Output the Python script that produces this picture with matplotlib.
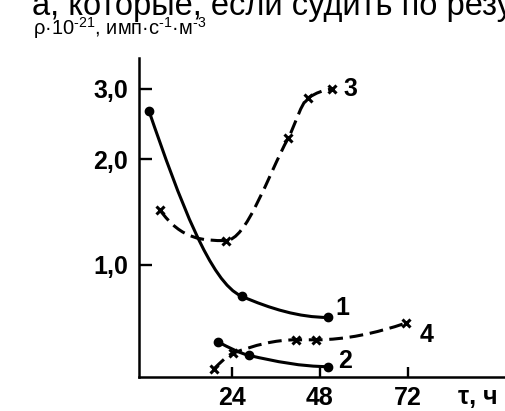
import numpy as np
import matplotlib
matplotlib.use('Agg')
import matplotlib.pyplot as plt
from matplotlib.path import Path
from matplotlib.patches import PathPatch

plt.rcParams['font.family'] = ['Liberation Sans', 'DejaVu Sans']
plt.rcParams['mathtext.fontset'] = 'custom'
plt.rcParams['mathtext.rm'] = 'Liberation Sans'
plt.rcParams['mathtext.bf'] = 'Liberation Sans:bold'

# data (tau in hours, rho in 1e21 units)
t1 = [1.5, 26.7, 50.2]
r1 = [2.69, 0.72, 0.53]
t2 = [20.4, 28.8, 50.2]
r2 = [0.31, 0.19, 0.09]
t3 = [4.5, 22.4, 39.4, 44.8, 51.2]
r3 = [1.52, 1.23, 2.30, 2.87, 2.99]
t4 = [19.2, 24.4, 41.5, 46.9, 71.4]
r4 = [0.07, 0.21, 0.33, 0.33, 0.48]

xticks = [24, 48, 72]
xticklabels = ['24', '48', '72']
yticks = [1, 2, 3]
yticklabels = ['1,0', '2,0', '3,0']

# the original y axis is not evenly spaced, so map it piecewise
scale_v = [0, 1, 2, 3, 4]
scale_p = [0, 111.7, 217.4, 287.7, 357.7]


def fwd(v):
    return np.interp(v, scale_v, scale_p)


def inv(p):
    return np.interp(p, scale_p, scale_v)


def pchip_slopes(x, y):
    h = np.diff(x)
    d = np.diff(y) / h
    m = np.zeros_like(y)
    for k in range(1, len(x) - 1):
        if d[k - 1] * d[k] > 0:
            w1 = 2 * h[k] + h[k - 1]
            w2 = h[k] + 2 * h[k - 1]
            m[k] = (w1 + w2) / (w1 / d[k - 1] + w2 / d[k])
    for k, (ha, hb, da, db) in [(0, (h[0], h[1], d[0], d[1])),
                                (-1, (h[-1], h[-2], d[-1], d[-2]))]:
        e = ((2 * ha + hb) * da - ha * db) / (ha + hb)
        if np.sign(e) != np.sign(da):
            e = 0
        elif np.sign(da) != np.sign(db) and abs(e) > 3 * abs(da):
            e = 3 * da
        m[k] = e
    return m


def smooth_path(xs, ys):
    # monotone cubic through the points, drawn as bezier segments
    x = np.asarray(xs, float)
    y = fwd(np.asarray(ys, float))
    m = pchip_slopes(x, y)
    verts = [(x[0], y[0])]
    codes = [Path.MOVETO]
    for i in range(len(x) - 1):
        h = (x[i + 1] - x[i]) / 3
        verts += [(x[i] + h, y[i] + m[i] * h),
                  (x[i + 1] - h, y[i + 1] - m[i + 1] * h),
                  (x[i + 1], y[i + 1])]
        codes += [Path.CURVE4] * 3
    verts = np.array(verts)
    verts[:, 1] = inv(verts[:, 1])
    return Path(verts, codes)


fig = plt.figure(figsize=(5.05, 4.11), dpi=100)
ax = fig.add_axes([0.2758, 0.0835, 0.724, 0.7755])
ax.set_yscale('function', functions=(fwd, inv))

lw = 2.2
dash = (0, (4.5, 2.2))
series = [
    (t1, r1, '-', 'o', '1', (10.6, 7.0)),
    (t2, r2, '-', 'o', '2', (12, 4.1)),
    (t3, r3, dash, 'x', '3', (13.2, 0)),
    (t4, r4, dash, 'x', '4', (15.1, -8.9)),
]
for xs, ys, ls, mk, lab, off in series:
    ax.add_patch(PathPatch(smooth_path(xs, ys), fill=False, lw=lw, ls=ls,
                           ec='black', capstyle='butt'))
    if mk == 'o':
        ax.plot(xs, ys, ls='none', marker='o', ms=6, color='black')
    else:
        ax.plot(xs, ys, ls='none', marker='x', ms=6, mew=2.2, color='black')
    ax.annotate(lab, (xs[-1], ys[-1]), xytext=off, textcoords='offset points',
                ha='center', va='center', fontsize=18, fontweight='bold')

ax.set_xlim(-1.1, 98.3)
ax.set_ylim(0, 3.44)
ax.set_xticks(xticks)
ax.set_xticklabels(xticklabels, fontweight='bold')
ax.set_yticks(yticks)
ax.set_yticklabels(yticklabels, fontweight='bold')
ax.minorticks_off()
ax.tick_params(axis='both', direction='in', width=1.7, labelsize=18)
ax.tick_params(axis='y', length=9.5, pad=8)
ax.tick_params(axis='x', length=7.5, pad=7)
for s in ['top', 'right']:
    ax.spines[s].set_visible(False)
for s in ['left', 'bottom']:
    ax.spines[s].set_linewidth(1.8)
ax.patch.set_visible(False)

fig.text(458 / 505, 1 - 397 / 411, 'τ, ч', fontsize=18, va='center',
         fontweight='bold')
fig.text(33 / 505, 1 - 35 / 411,
         'ρ·10$^{\u201021}$, имп·с$^{\u20101}$·м$^{\u20103}$',
         fontsize=14.5, va='baseline')
fig.text(32 / 505, 1 - 15 / 411, 'а, которые, если судить по результатам',
         fontsize=23.5, va='baseline')

fig.savefig('out.png', dpi=100)
